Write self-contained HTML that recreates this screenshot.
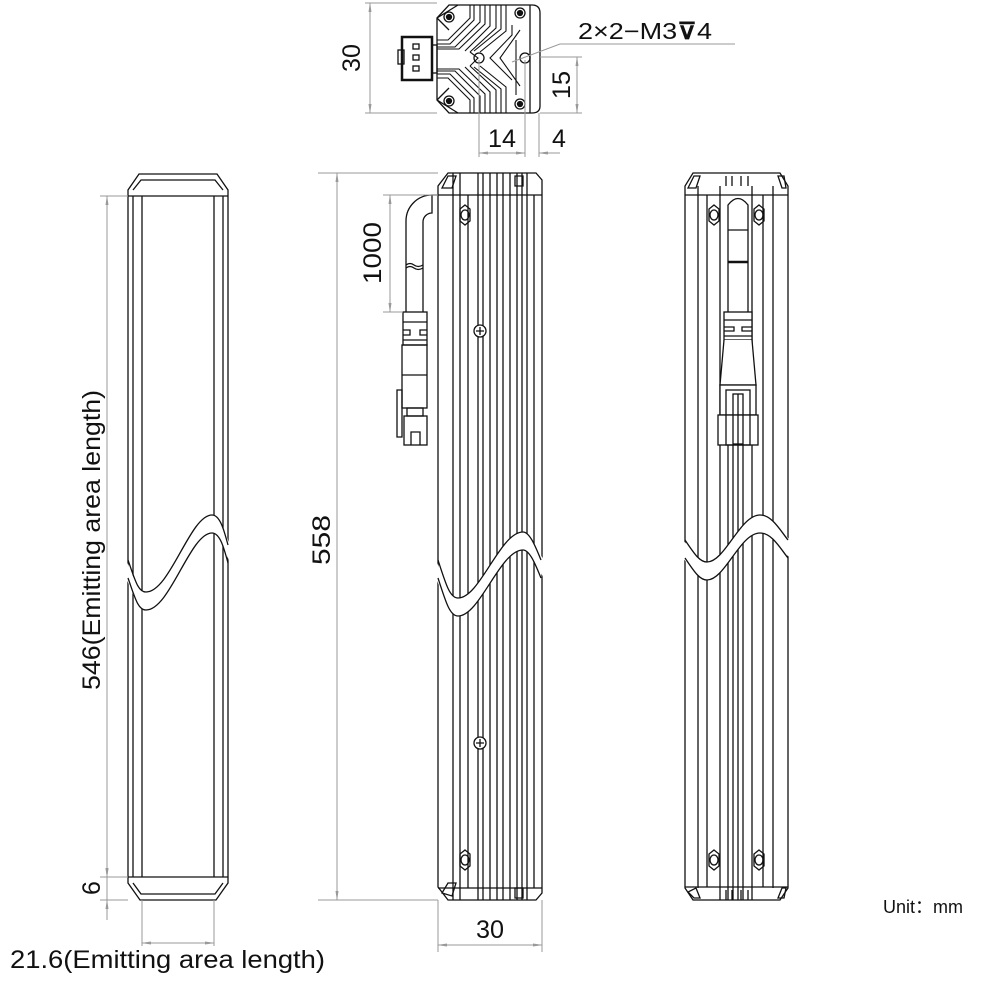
<!DOCTYPE html>
<html><head><meta charset="utf-8"><style>
html,body{margin:0;padding:0;background:#fff;}
svg{display:block;}
text{font-family:"Liberation Sans",sans-serif;fill:#111;}
</style></head><body>
<svg width="1000" height="985" viewBox="0 0 1000 985" xmlns="http://www.w3.org/2000/svg">
<defs>
<marker id="ar" markerWidth="10" markerHeight="6" refX="9" refY="3" orient="auto-start-reverse" markerUnits="userSpaceOnUse"><path d="M0,1.5 L10,3 L0,4.5" fill="#999" stroke="none"/></marker>
</defs>
<g fill="none" stroke="#111" stroke-width="1.3">
<!-- ===== LEFT VIEW ===== -->
<path d="M128,883 V190 L139,174 H217 L228,190 V883 L216,900 H140 Z"/>
<path d="M133,190 L141,180 H215 L223,190"/>
<line x1="128" y1="196" x2="228" y2="196"/>
<line x1="128" y1="877" x2="228" y2="877"/>
<path d="M133,883 L141,894 H215 L223,883"/>
<line x1="133" y1="196" x2="133" y2="877"/>
<line x1="142" y1="196" x2="142" y2="877"/>
<line x1="214" y1="196" x2="214" y2="877"/>
<line x1="223" y1="196" x2="223" y2="877"/>
<path d="M126,560 C135,580 138,592 146,592 C170,592 190,515 212,515 C220,515 224,530 230,545 L230,563 C224,548 220,533 212,533 C190,533 170,610 146,610 C138,610 135,598 126,578 Z" fill="#fff" stroke="none"/>
<path d="M128,560 C135,580 138,592 146,592 C170,592 190,515 212,515 C220,515 224,530 228,545"/>
<path d="M128,578 C135,598 138,610 146,610 C170,610 190,533 212,533 C220,533 224,548 228,563"/>

<!-- ===== MIDDLE VIEW ===== -->
<path d="M438,887 V186 L448,173 H536 L542,180 V893 L536,900 H448 Z"/>
<line x1="438" y1="195" x2="542" y2="195"/>
<line x1="438" y1="888" x2="542" y2="888"/>
<g>
<line x1="453" y1="173" x2="453" y2="900"/>
<line x1="460" y1="173" x2="460" y2="900"/>
<line x1="468" y1="195" x2="468" y2="888"/>
<line x1="478" y1="173" x2="478" y2="900"/>
<line x1="483" y1="173" x2="483" y2="900"/>
<line x1="490" y1="173" x2="490" y2="900"/>
<line x1="497" y1="173" x2="497" y2="900"/>
<line x1="503" y1="173" x2="503" y2="900"/>
<line x1="510" y1="173" x2="510" y2="900"/>
<line x1="517" y1="173" x2="517" y2="900"/>
<line x1="522" y1="173" x2="522" y2="900"/>
<line x1="527" y1="173" x2="527" y2="900"/>
<line x1="534" y1="195" x2="534" y2="888"/>
</g>
<path d="M436,560 C446,585 450,598 458,598 C480,598 500,532 523,532 C530,532 536,548 544,560 L544,578 C536,566 530,550 523,550 C500,550 480,616 458,616 C450,616 446,603 436,578 Z" fill="#fff" stroke="none"/>
<path d="M438,560 C446,585 450,598 458,598 C480,598 500,532 523,532 C530,532 536,548 541,560"/>
<path d="M438,578 C446,603 450,616 458,616 C480,616 500,550 523,550 C530,550 536,566 541,578"/>
<path d="M442,188 L448,176 H456 L452,188 Z"/>
<path d="M442,893 L448,883 H456 L452,896 Z"/>
<path d="M515,176 h8 v10 h-8 z"/><path d="M515,888 h8 v10 h-8 z"/>
<path d="M465,205 l5,4 v12 l-5,4 l-5,-4 v-12 z"/><ellipse cx="465" cy="215" rx="4" ry="5"/>
<path d="M465,850 l5,4 v12 l-5,4 l-5,-4 v-12 z"/><ellipse cx="465" cy="860" rx="4" ry="5"/>
<circle cx="480" cy="331" r="6" fill="#fff"/><path d="M476,331 h8 M480,327 v8"/>
<circle cx="480" cy="743" r="6" fill="#fff"/><path d="M476,743 h8 M480,739 v8"/>
<!-- cable -->
<path d="M438,195 H432 A26,26 0 0 0 406,221 V312"/>
<path d="M432,195 V213 A9,9 0 0 0 423,222 V312"/>
<path d="M406,265 q4,-3 8,0 t9,0"/><path d="M406,268 q4,-3 8,0 t9,0"/>
<rect x="403" y="312" width="24" height="33"/>
<path d="M403,322 h24 M403,330 h7 v5 h-7 M427,330 h-7 v5 h7 M403,340 h24"/>
<rect x="402" y="345" width="25" height="63"/>
<line x1="402" y1="375" x2="427" y2="375"/>
<rect x="407" y="408" width="16" height="8"/>
<rect x="404" y="416" width="23" height="29"/>
<path d="M397,390 H402 V437 H397 Z"/>
<path d="M411,445 V432 H420 V445"/>

<!-- ===== RIGHT VIEW ===== -->
<path d="M685,888 V186 L693,173 H780 L788,186 V888 L780,900 H693 Z"/>
<line x1="685" y1="195" x2="788" y2="195"/>
<line x1="685" y1="887" x2="788" y2="887"/>
<line x1="698" y1="186" x2="698" y2="888"/>
<line x1="707" y1="195" x2="707" y2="887"/>
<line x1="720" y1="186" x2="720" y2="900"/>
<line x1="728" y1="445" x2="728" y2="900"/>
<line x1="733" y1="445" x2="733" y2="900"/>
<line x1="738" y1="445" x2="738" y2="900"/>
<line x1="743" y1="445" x2="743" y2="900"/>
<line x1="752" y1="186" x2="752" y2="900"/>
<line x1="763" y1="195" x2="763" y2="887"/>
<line x1="773" y1="186" x2="773" y2="888"/>
<path d="M683,540 C695,555 700,562 707,562 C725,562 740,515 760,515 C772,515 780,530 790,540 L790,558 C780,548 772,533 760,533 C740,533 725,580 707,580 C700,580 695,573 683,558 Z" fill="#fff" stroke="none"/>
<path d="M685,540 C695,555 700,562 707,562 C725,562 740,515 760,515 C772,515 780,530 788,540"/>
<path d="M685,558 C695,573 700,580 707,580 C725,580 740,533 760,533 C772,533 780,548 788,558"/>
<path d="M688,188 L694,176 H700 L696,188 Z"/><path d="M778,176 h6 l2,12 h-4 z"/>
<path d="M688,892 L694,898 H700 L696,888 Z"/><path d="M778,898 h6 l2,-10 h-4 z"/>
<path d="M726,176 v10 M732,176 v10 M741,176 v10 M748,176 v10"/>
<path d="M726,890 v10 M732,890 v10 M741,890 v10 M748,890 v10"/>
<path d="M714,205 l5,4 v12 l-5,4 l-5,-4 v-12 z"/><ellipse cx="714" cy="215" rx="4" ry="5"/>
<path d="M759,205 l5,4 v12 l-5,4 l-5,-4 v-12 z"/><ellipse cx="759" cy="215" rx="4" ry="5"/>
<path d="M714,850 l5,4 v12 l-5,4 l-5,-4 v-12 z"/><ellipse cx="714" cy="860" rx="4" ry="5"/>
<path d="M759,850 l5,4 v12 l-5,4 l-5,-4 v-12 z"/><ellipse cx="759" cy="860" rx="4" ry="5"/>
<path d="M728,312 V205 Q738,192 748,205 V312" fill="#fff"/>
<line x1="728" y1="230" x2="748" y2="230"/>
<path d="M728,262 h20" stroke-width="2.5"/>
<rect x="724" y="312" width="28" height="28" fill="#fff"/>
<path d="M724,320 h28 M724,327 h10 v4 h-10 M752,327 h-10 v4 h10 M724,336 h28"/>
<path d="M724,340 L720,385 H756 L752,340" fill="#fff"/>
<rect x="720" y="385" width="36" height="30" fill="#fff"/>
<rect x="718" y="415" width="40" height="30" fill="#fff"/>
<rect x="726" y="390" width="24" height="55"/>
<rect x="733" y="394" width="10" height="50"/>
<path d="M738,394 v50"/>

<!-- ===== TOP VIEW ===== -->
<path d="M437,18 L449,5 H532 Q540,5 540,13 V106 Q540,113 532,113 H449 L437,100 Z"/>
<line x1="530" y1="5" x2="530" y2="113"/>
<path d="M437,18 L458,5 M437,100 L458,113 M437,18 L449,30 M437,100 L449,88"/>
<circle cx="449" cy="17" r="5"/><circle cx="449" cy="17" r="2.5" fill="#111"/>
<circle cx="449" cy="101" r="5"/><circle cx="449" cy="101" r="2.5" fill="#111"/>
<circle cx="520" cy="13" r="5"/><circle cx="520" cy="13" r="2.5" fill="#111"/>
<circle cx="520" cy="104" r="5"/><circle cx="520" cy="104" r="2.5" fill="#111"/>
<circle cx="479" cy="58" r="5"/><circle cx="525" cy="58" r="5"/>
<g stroke-width="1.1">
<path d="M470,5 V18 L448,40 H437"/><path d="M474,5 V20 L450,44 H437"/><path d="M480,5 V22 L455,47 H437"/>
<path d="M485,5 V24 L459,49 H437"/><path d="M490,5 V26 L465,51"/><path d="M496,5 V28 L470,52"/>
<path d="M501,5 V29 L474,51"/><path d="M506,5 V31 L480,52"/><path d="M512,25 V35 L490,58 L512,80"/>
<path d="M470,113 V100 L448,78 H437"/><path d="M474,113 V98 L450,74 H437"/><path d="M480,113 V96 L455,71 H437"/>
<path d="M485,113 V94 L459,69 H437"/><path d="M490,113 V92 L465,67"/><path d="M496,113 V90 L470,66"/>
<path d="M501,113 V89 L474,67"/><path d="M506,113 V87 L480,66"/><path d="M516,40 V95"/>
<path d="M470,66 L478,58 L470,52"/><path d="M520,30 L500,58 L520,86"/>
</g>
<rect x="432" y="45" width="5" height="28"/>
<rect x="402" y="37" width="30" height="43" stroke-width="2.5"/>
<rect x="398" y="50" width="6" height="14"/>
<rect x="413" y="44" width="6" height="5"/><rect x="413" y="55" width="6" height="5"/><rect x="413" y="66" width="6" height="5"/>
</g>

<!-- ===== DIMENSIONS ===== -->
<g stroke="#999" stroke-width="1" fill="none">
<line x1="100" y1="196" x2="128" y2="196"/><line x1="100" y1="877" x2="128" y2="877"/>
<line x1="107" y1="196" x2="107" y2="877" marker-start="url(#ar)" marker-end="url(#ar)"/>
<line x1="100" y1="900" x2="128" y2="900"/>
<line x1="107" y1="862" x2="107" y2="877" marker-end="url(#ar)"/>
<line x1="107" y1="915" x2="107" y2="900" marker-end="url(#ar)"/>
<line x1="107" y1="877" x2="107" y2="920"/>
<line x1="142" y1="900" x2="142" y2="946"/><line x1="214" y1="900" x2="214" y2="946"/>
<line x1="142" y1="943" x2="214" y2="943" marker-start="url(#ar)" marker-end="url(#ar)"/>
<line x1="318" y1="173" x2="438" y2="173"/><line x1="318" y1="900" x2="438" y2="900"/>
<line x1="337" y1="173" x2="337" y2="900" marker-start="url(#ar)" marker-end="url(#ar)"/>
<line x1="383" y1="195" x2="438" y2="195"/><line x1="383" y1="312" x2="403" y2="312"/>
<line x1="390" y1="195" x2="390" y2="312" marker-start="url(#ar)" marker-end="url(#ar)"/>
<line x1="438" y1="900" x2="438" y2="952"/><line x1="542" y1="900" x2="542" y2="952"/>
<line x1="438" y1="945" x2="542" y2="945" marker-start="url(#ar)" marker-end="url(#ar)"/>
<line x1="365" y1="3" x2="437" y2="3"/><line x1="365" y1="113" x2="437" y2="113"/>
<line x1="370" y1="3" x2="370" y2="113" marker-start="url(#ar)" marker-end="url(#ar)"/>
<line x1="540" y1="57" x2="582" y2="57"/>
<line x1="577" y1="57" x2="577" y2="113" marker-start="url(#ar)" marker-end="url(#ar)"/>
<line x1="540" y1="113" x2="582" y2="113"/>
<line x1="479" y1="60" x2="479" y2="157"/><line x1="525" y1="60" x2="525" y2="157"/><line x1="539" y1="113" x2="539" y2="157"/>
<line x1="479" y1="153" x2="525" y2="153" marker-start="url(#ar)" marker-end="url(#ar)"/>
<line x1="560" y1="153" x2="539" y2="153" marker-end="url(#ar)"/>
<path d="M512,62 L560,44 H735"/>
</g>

<!-- ===== TEXT ===== -->
<g font-size="25">
<text transform="translate(100,540) rotate(-90)" text-anchor="middle" textLength="300" lengthAdjust="spacingAndGlyphs">546(Emitting area length)</text>
<text transform="translate(100,888) rotate(-90)" text-anchor="middle">6</text>
<text x="10" y="968" textLength="315" lengthAdjust="spacingAndGlyphs">21.6(Emitting area length)</text>
<text transform="translate(330,540) rotate(-90)" text-anchor="middle" textLength="50" lengthAdjust="spacingAndGlyphs">558</text>
<text transform="translate(381,253) rotate(-90)" text-anchor="middle" textLength="62" lengthAdjust="spacingAndGlyphs">1000</text>
<text x="490" y="938" text-anchor="middle" textLength="28" lengthAdjust="spacingAndGlyphs">30</text>
<text transform="translate(360,58) rotate(-90)" text-anchor="middle" textLength="28" lengthAdjust="spacingAndGlyphs">30</text>
<text transform="translate(570,85) rotate(-90)" text-anchor="middle" textLength="28" lengthAdjust="spacingAndGlyphs">15</text>
<text x="502" y="147" text-anchor="middle" textLength="28" lengthAdjust="spacingAndGlyphs">14</text>
<text x="559" y="147" text-anchor="middle">4</text>
<text x="578" y="39" font-size="23" textLength="134" lengthAdjust="spacingAndGlyphs">2×2−M3<tspan font-weight="bold">⊽</tspan>4</text>
<text x="883" y="913" font-size="18">Unit：mm</text>
</g>
</svg>
</body></html>
